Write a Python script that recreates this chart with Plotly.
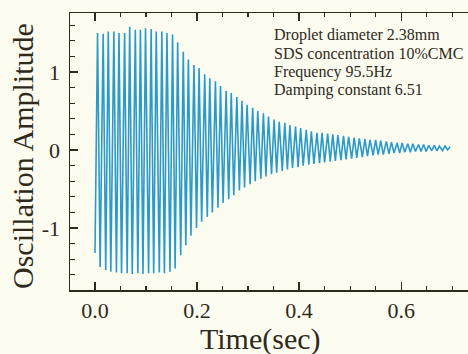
import plotly.graph_objects as go

# Extremes of the oscillation (time in s, amplitude)
trough_time = [0.000, 0.010, 0.021, 0.031, 0.042, 0.052, 0.063, 0.073, 0.084, 0.094,
               0.105, 0.115, 0.126, 0.136, 0.147, 0.157, 0.168, 0.178, 0.188, 0.199,
               0.209, 0.220, 0.230, 0.241, 0.251, 0.262, 0.272, 0.283, 0.293, 0.304,
               0.314, 0.325, 0.335, 0.346, 0.356, 0.367, 0.377, 0.387, 0.398, 0.408,
               0.419, 0.429, 0.440, 0.450, 0.461, 0.471, 0.482, 0.492, 0.503, 0.513,
               0.524, 0.534, 0.545, 0.555, 0.565, 0.576, 0.586, 0.597, 0.607, 0.618,
               0.628, 0.639, 0.649, 0.660, 0.670, 0.681, 0.691]
trough_value = [-1.32, -1.50, -1.54, -1.56, -1.57, -1.58, -1.58, -1.59, -1.58, -1.59,
                -1.58, -1.58, -1.57, -1.58, -1.56, -1.52, -1.35, -1.22, -1.10, -1.00,
                -0.92, -0.86, -0.80, -0.74, -0.68, -0.63, -0.58, -0.52, -0.48, -0.44,
                -0.40, -0.37, -0.34, -0.31, -0.29, -0.27, -0.25, -0.23, -0.22, -0.20,
                -0.19, -0.18, -0.17, -0.16, -0.15, -0.14, -0.13, -0.12, -0.11, -0.10,
                -0.09, -0.08, -0.07, -0.06, -0.06, -0.05, -0.04, -0.04, -0.03, -0.03,
                -0.02, -0.02, -0.02, -0.01, -0.01, -0.01, 0.00]
peak_time = [0.005, 0.016, 0.026, 0.037, 0.047, 0.058, 0.068, 0.079, 0.089, 0.099,
             0.110, 0.120, 0.131, 0.141, 0.152, 0.162, 0.173, 0.183, 0.194, 0.204,
             0.215, 0.225, 0.236, 0.246, 0.257, 0.267, 0.278, 0.288, 0.298, 0.309,
             0.319, 0.330, 0.340, 0.351, 0.361, 0.372, 0.382, 0.393, 0.403, 0.414,
             0.424, 0.435, 0.445, 0.456, 0.466, 0.476, 0.487, 0.497, 0.508, 0.518,
             0.529, 0.539, 0.550, 0.560, 0.571, 0.581, 0.592, 0.602, 0.613, 0.623,
             0.634, 0.644, 0.654, 0.665, 0.675, 0.686, 0.696]
peak_value = [1.50, 1.49, 1.52, 1.52, 1.50, 1.50, 1.58, 1.54, 1.54, 1.56,
              1.55, 1.52, 1.52, 1.50, 1.48, 1.38, 1.26, 1.16, 1.09, 1.05,
              0.97, 0.92, 0.88, 0.82, 0.76, 0.73, 0.68, 0.63, 0.58, 0.54,
              0.50, 0.47, 0.43, 0.39, 0.36, 0.35, 0.32, 0.30, 0.28, 0.26,
              0.24, 0.22, 0.22, 0.21, 0.20, 0.19, 0.18, 0.17, 0.16, 0.15,
              0.14, 0.13, 0.13, 0.12, 0.11, 0.10, 0.09, 0.09, 0.08, 0.08,
              0.07, 0.07, 0.06, 0.06, 0.05, 0.05, 0.04]

x_tick_values = [0.0, 0.2, 0.4, 0.6]
x_tick_labels = ["0.0", "0.2", "0.4", "0.6"]
y_tick_values = [-1, 0, 1]
y_tick_labels = ["-1", "0", "1"]

info_lines = ["Droplet diameter 2.38mm", "SDS concentration 10%CMC",
              "Frequency 95.5Hz", "Damping constant 6.51"]

x_title = "Time(sec)"
y_title = "Oscillation Amplitude"

# interleave troughs and peaks in time order
xs, ys = [], []
for tt, tv, pt, pv in zip(trough_time, trough_value, peak_time, peak_value):
    xs += [tt, pt]
    ys += [tv, pv]

W, H = 468, 354
L, R, T, B = 70, 0, 13, 64
pw, ph = W - L - R, H - T - B

bg = "#fcfbf0"
ink = "#2e2a1c"
font_family = "Liberation Serif, Times New Roman, serif"

fig = go.Figure()
fig.add_trace(go.Scatter(x=xs, y=ys, mode="lines",
                         line=dict(color="#2a9acb", width=1.6),
                         showlegend=False, hoverinfo="skip"))

def px_x(px):
    return (px - L) / pw

def px_y(py):
    return (H - B - py) / ph

annotations = []
for i, line in enumerate(info_lines):
    annotations.append(dict(text=line, xref="paper", yref="paper",
                            x=px_x(272), y=px_y(35 + i * 18.4),
                            xanchor="left", yanchor="middle", showarrow=False,
                            font=dict(family=font_family, size=16, color=ink)))
annotations.append(dict(text=x_title, xref="paper", yref="paper",
                        x=px_x(260), y=px_y(339), xanchor="center", yanchor="middle",
                        showarrow=False,
                        font=dict(family=font_family, size=30, color=ink)))
annotations.append(dict(text=y_title, xref="paper", yref="paper",
                        x=px_x(22), y=px_y(156), xanchor="center", yanchor="middle",
                        textangle=-90, showarrow=False,
                        font=dict(family=font_family, size=30, color=ink)))

fig.update_layout(
    width=W, height=H,
    margin=dict(l=L, r=R, t=T, b=B, autoexpand=False),
    paper_bgcolor=bg, plot_bgcolor=bg,
    font=dict(family=font_family, color=ink),
    annotations=annotations,
    xaxis=dict(range=[-0.049, 0.731], tickvals=x_tick_values, ticktext=x_tick_labels,
               ticks="inside", ticklen=8, tickwidth=1.3, tickcolor=ink,
               showline=True, linecolor=ink, linewidth=1.5, mirror="ticks",
               showgrid=False, zeroline=False,
               tickfont=dict(family=font_family, size=22, color=ink),
               minor=dict(dtick=0.05, tick0=0, ticks="inside", ticklen=4,
                          tickwidth=1.2, tickcolor=ink, showgrid=False)),
    yaxis=dict(range=[-1.795, 1.756], tickvals=y_tick_values, ticktext=y_tick_labels,
               ticks="inside", ticklen=8, tickwidth=1.3, tickcolor=ink,
               showline=True, linecolor=ink, linewidth=1.5, mirror=False,
               showgrid=False, zeroline=False, ticklabelstandoff=4,
               tickfont=dict(family=font_family, size=22, color=ink),
               minor=dict(dtick=0.2, tick0=0, ticks="inside", ticklen=5,
                          tickwidth=1.2, tickcolor=ink, showgrid=False)),
)

fig.write_html("out.html",
               config={"displayModeBar": False, "staticPlot": True},
               post_script="document.body.style.margin='0';"
                           "document.body.style.background='" + bg + "';")
